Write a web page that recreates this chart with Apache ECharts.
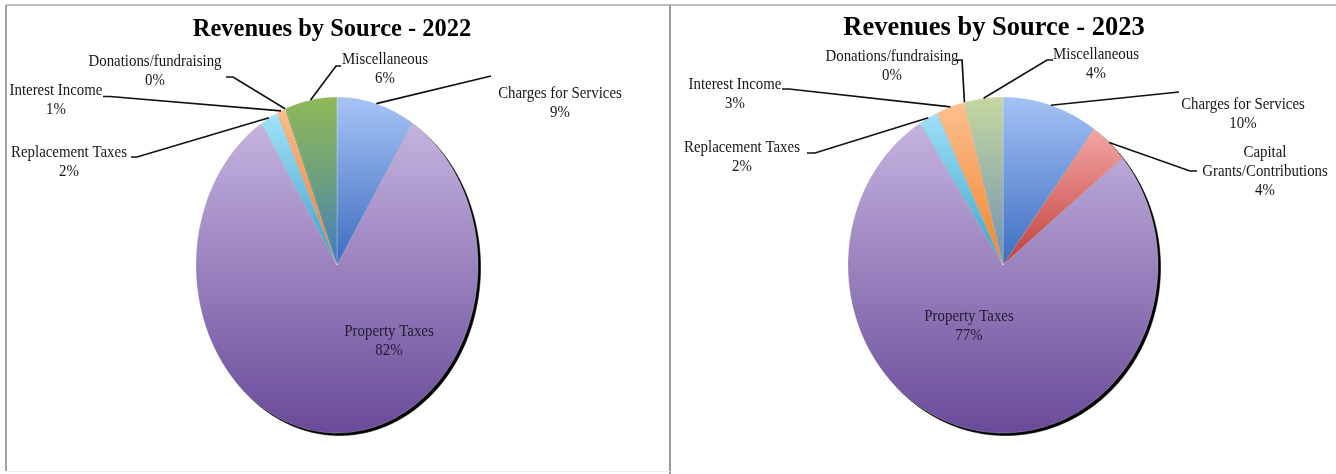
<!DOCTYPE html>
<html>
<head>
<meta charset="utf-8">
<script src="https://cdn.jsdelivr.net/npm/echarts@6/dist/echarts.min.js"></script>
<style>
  html, body { margin: 0; padding: 0; background: #fff; }
  #chart { width: 1336px; height: 474px; }
</style>
</head>
<body>
<div id="chart"></div>
<script>
// Revenue sources in clockwise order from 12 o'clock, shares in percent
const sources2022 = ['Charges for Services', 'Property Taxes', 'Replacement Taxes', 'Interest Income', 'Donations/fundraising', 'Miscellaneous'];
const shares2022 = [9, 82, 2, 1, 0, 6];

const sources2023 = ['Charges for Services', 'Capital Grants/Contributions', 'Property Taxes', 'Replacement Taxes', 'Interest Income', 'Donations/fundraising', 'Miscellaneous'];
const shares2023 = [10, 4, 77, 2, 3, 0, 4];

const chartTitles = ['Revenues by Source - 2022', 'Revenues by Source - 2023'];

// Slice fills: vertical gradient, light at the top of each slice, deep at the bottom
const fills2022 = {
  'Charges for Services': ['#a7c4f6', '#3b6cbf'],
  'Property Taxes': ['#c5b3df', '#694a99'],
  'Replacement Taxes': ['#a2e2f9', '#3a9fc8'],
  'Interest Income': ['#fcbd8c', '#e9782c'],
  'Donations/fundraising': ['#fcbd8c', '#e9782c'],
  'Miscellaneous': ['#90ba56', '#6c9f80', '#3f79c6']
};
const fills2023 = {
  'Charges for Services': ['#a4c2f5', '#3c6dc0'],
  'Capital Grants/Contributions': ['#f5a6a4', '#bf3f3c'],
  'Property Taxes': ['#c5b3df', '#694a99'],
  'Replacement Taxes': ['#a0dff9', '#39a4cb'],
  'Interest Income': ['#fdc090', '#ef842c'],
  'Donations/fundraising': ['#fdc090', '#ef842c'],
  'Miscellaneous': ['#c5d89f', '#9ab4a8', '#6c91b8']
};

// Ellipse geometry and label placement for each pie
const layout2022 = {
  cx: 337, cy: 265, rx: 141, ry: 168,
  labels: {
    'Charges for Services': { x: 560, y: 103.5, path: [[491, 76]] },
    'Property Taxes': { x: 389, y: 341.5 },
    'Replacement Taxes': { x: 69, y: 162, path: [[137, 157], [131, 157]] },
    'Interest Income': { x: 56, y: 100, path: [[110, 96.5], [103, 96.5]] },
    'Donations/fundraising': { x: 155, y: 71, path: [[233, 77], [226, 77]] },
    'Miscellaneous': { x: 385, y: 69.5, path: [[336, 66], [341, 66]] }
  }
};
const layout2023 = {
  cx: 1003, cy: 265, rx: 155, ry: 168,
  labels: {
    'Charges for Services': { x: 1243, y: 114.5, path: [[1179, 92]] },
    'Capital Grants/Contributions': { x: 1265, y: 171.5, wrap: 'Capital\nGrants/Contributions', path: [[1190, 171], [1197, 171]] },
    'Property Taxes': { x: 969, y: 326 },
    'Replacement Taxes': { x: 742, y: 157.5, path: [[815, 153], [807, 153]] },
    'Interest Income': { x: 735, y: 94.5, path: [[789, 89], [782, 89]] },
    'Donations/fundraising': { x: 892, y: 66.5, path: [[962, 60], [955, 60]] },
    'Miscellaneous': { x: 1096, y: 64, path: [[1047, 60], [1053, 60]] }
  }
};

const SERIF = '"Liberation Serif", "Times New Roman", serif';

function gradient(stops) {
  return {
    type: 'linear', x: 0, y: 0, x2: 0, y2: 1,
    colorStops: stops.map((c, i) => ({ offset: i / (stops.length - 1), color: c }))
  };
}

// Elliptical pie: each datum becomes a sector polygon, its shadow, leader line and label
function pieRenderer(names, values, lay, fills) {
  const total = values.reduce((a, b) => a + b, 0);
  const starts = [];
  let acc = 0;
  values.forEach(v => { starts.push(acc); acc += v; });

  return function (params, api) {
    const i = params.dataIndex;
    const v = api.value(0);
    const name = names[i];
    const a0 = starts[i] / total * Math.PI * 2;
    const a1 = (starts[i] + v) / total * Math.PI * 2;
    const at = (a, dx, dy) => [lay.cx + lay.rx * Math.sin(a) + (dx || 0), lay.cy - lay.ry * Math.cos(a) + (dy || 0)];
    const children = [];

    if (v > 0) {
      const steps = Math.max(2, Math.ceil((a1 - a0) / 0.01));
      const pts = [[lay.cx, lay.cy]];
      const shadowPts = [[lay.cx + 2.5, lay.cy + 2.5]];
      for (let k = 0; k <= steps; k++) {
        const a = a0 + (a1 - a0) * k / steps;
        pts.push(at(a));
        shadowPts.push(at(a, 2.5, 2.5));
      }
      children.push({
        type: 'polygon', z2: 1,
        shape: { points: shadowPts },
        style: { fill: '#000', stroke: '#000', lineWidth: 0.6 }
      });
      children.push({
        type: 'polygon', z2: 5,
        shape: { points: pts },
        style: { fill: gradient(fills[name]), stroke: 'rgba(255,255,255,0.35)', lineWidth: 0.7 }
      });
    }

    const lab = lay.labels[name];
    if (lab) {
      if (lab.path) {
        const mid = (a0 + a1) / 2;
        children.push({
          type: 'polyline', z2: 8,
          shape: { points: [at(mid)].concat(lab.path) },
          style: { stroke: '#111', lineWidth: 1.7, fill: null }
        });
      }
      children.push({
        type: 'text', z2: 10,
        x: lab.x, y: lab.y, scaleX: 0.93,
        style: {
          text: (lab.wrap || name) + '\n' + v + '%',
          x: 0, y: 0,
          align: 'center', verticalAlign: 'middle',
          font: '16px ' + SERIF,
          lineHeight: 19,
          fill: lab.path ? '#161616' : '#211a30'
        }
      });
    }
    return { type: 'group', children: children };
  };
}

const chart = echarts.init(document.getElementById('chart'), null, { renderer: 'canvas' });

chart.setOption({
  animation: false,
  backgroundColor: '#ffffff',
  title: [
    {
      text: chartTitles[0], left: 332, top: 17, textAlign: 'center', padding: 0,
      textStyle: { fontFamily: SERIF, fontWeight: 'bold', fontSize: 24.5, color: '#000' }
    },
    {
      text: chartTitles[1], left: 994, top: 15, textAlign: 'center', padding: 0,
      textStyle: { fontFamily: SERIF, fontWeight: 'bold', fontSize: 26.5, color: '#000' }
    }
  ],
  graphic: [
    { type: 'line', shape: { x1: 6, y1: 5, x2: 1336, y2: 5 }, style: { stroke: '#a8a8a8', lineWidth: 1.5 } },
    { type: 'line', shape: { x1: 6, y1: 5, x2: 6, y2: 471 }, style: { stroke: '#a0a0a0', lineWidth: 2 } },
    { type: 'line', shape: { x1: 670, y1: 5, x2: 670, y2: 474 }, style: { stroke: '#9a9a9a', lineWidth: 2 } },
    { type: 'line', shape: { x1: 6, y1: 471.5, x2: 670, y2: 471.5 }, style: { stroke: '#ececec', lineWidth: 1 } }
  ],
  series: [
    {
      type: 'custom', name: '2022', coordinateSystem: 'none', silent: true,
      renderItem: pieRenderer(sources2022, shares2022, layout2022, fills2022),
      data: shares2022.map((v, i) => ({ name: sources2022[i], value: v }))
    },
    {
      type: 'custom', name: '2023', coordinateSystem: 'none', silent: true,
      renderItem: pieRenderer(sources2023, shares2023, layout2023, fills2023),
      data: shares2023.map((v, i) => ({ name: sources2023[i], value: v }))
    }
  ]
});
</script>
</body>
</html>
